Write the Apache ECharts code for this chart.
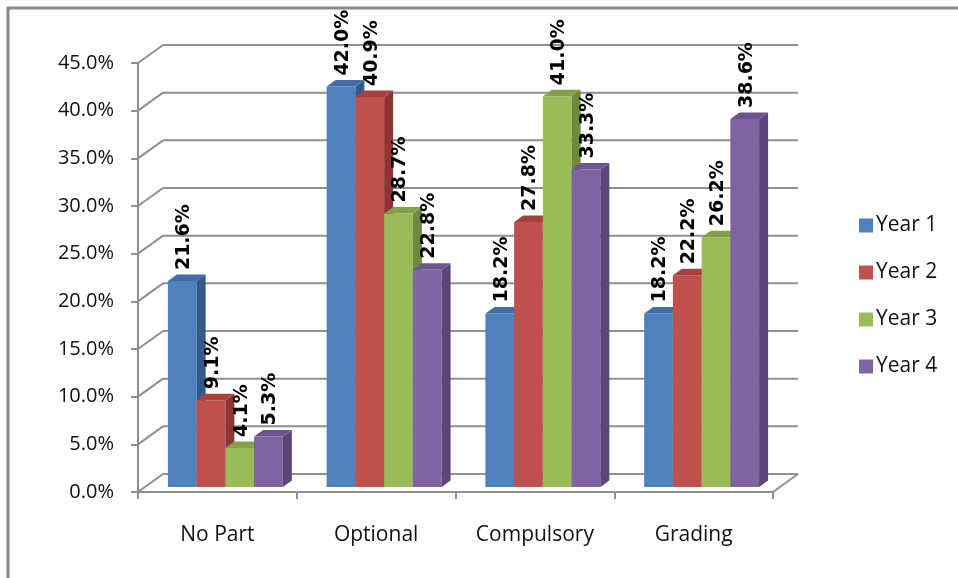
<!DOCTYPE html>
<html>
<head>
<meta charset="utf-8">
<script src="https://cdn.jsdelivr.net/npm/echarts@6/dist/echarts.min.js"></script>
<style>html,body{margin:0;padding:0;background:#fff;}#c{width:958px;height:578px;}</style>
</head>
<body>
<div id="c"></div>
<script>
const categories = ['No Part', 'Optional', 'Compulsory', 'Grading'];
const seriesNames = ['Year 1', 'Year 2', 'Year 3', 'Year 4'];
const year1 = [21.6, 42.0, 18.2, 18.2];
const year2 = [9.1, 40.9, 27.8, 22.2];
const year3 = [4.1, 28.7, 41.0, 26.2];
const year4 = [5.3, 22.8, 33.3, 38.6];
const yTicks = [0, 5, 10, 15, 20, 25, 30, 35, 40, 45];

const values = [year1, year2, year3, year4];
const frontColors = ['#4F81BD', '#C0504D', '#9BBB59', '#8064A2'];
const sideColors  = ['#345A88', '#8E3533', '#6F8A3C', '#5A4678'];
const topColors   = ['#416EA6', '#A8413E', '#84A04A', '#6C5590'];

// depth geometry (pixels)
const WALL_DX = 25, WALL_DY = -18;
const BAR_FX = 8, BAR_FY = -5;     // bar front plane offset from front axis plane
const BAR_DX = 9, BAR_DY = -6.5;   // bar depth
const BAR_FRAC = 0.181;

const chart = echarts.init(document.getElementById('c'));

function wallRender(params, api) {
  const v = api.value(1);
  const p = api.coord([0, v]);
  const band = api.size([1, 0])[0];
  const left = p[0] - band / 2;
  const right = left + band * categories.length;
  const y = p[1];
  const ls = {stroke: '#8f8f8f', lineWidth: 2};
  const children = [
    {type: 'line', shape: {x1: left, y1: y, x2: left + WALL_DX, y2: y + WALL_DY}, style: ls},
    {type: 'line', shape: {x1: left + WALL_DX, y1: y + WALL_DY, x2: right + WALL_DX, y2: y + WALL_DY}, style: ls}
  ];
  if (v === 0) {
    children.push({type: 'line', shape: {x1: right, y1: y, x2: right + WALL_DX, y2: y + WALL_DY}, style: ls});
  }
  return {type: 'group', children};
}

function barRender(si) {
  return function (params, api) {
    const cat = api.value(0), val = api.value(1);
    const base = api.coord([cat, 0]);
    const top = api.coord([cat, val]);
    const band = api.size([1, 0])[0];
    const bw = band * BAR_FRAC;
    const x0 = base[0] - bw * 2 + si * bw + BAR_FX;
    const yb = base[1] + BAR_FY;
    const yt = top[1] + BAR_FY;
    const x1 = x0 + bw;
    return {
      type: 'group',
      children: [
        {type: 'rect', shape: {x: x0, y: yt, width: bw, height: yb - yt}, style: {fill: frontColors[si]}},
        {type: 'polygon', shape: {points: [[x1, yt], [x1 + BAR_DX, yt + BAR_DY], [x1 + BAR_DX, yb + BAR_DY], [x1, yb]]}, style: {fill: sideColors[si]}},
        {type: 'polygon', shape: {points: [[x0, yt], [x0 + BAR_DX, yt + BAR_DY], [x1 + BAR_DX, yt + BAR_DY], [x1, yt]]}, style: {fill: topColors[si]}},
        {type: 'text', x: x0 + bw / 2 + 2, y: yt - 11, rotation: Math.PI / 2, z2: 100,
         style: {text: val.toFixed(1) + '%', fill: '#000', font: 'bold 19px "DejaVu Sans"', align: 'left', verticalAlign: 'middle'}}
      ]
    };
  };
}

const series = [{
  type: 'custom', name: 'wall', z: 1, silent: true,
  renderItem: wallRender,
  data: yTicks.map(v => [0, v]),
  encode: {x: 0, y: 1}
}];
seriesNames.forEach((n, si) => {
  series.push({
    type: 'custom', name: n, z: 2,
    itemStyle: {color: frontColors[si]},
    renderItem: barRender(si),
    data: values[si].map((v, i) => [i, v]),
    encode: {x: 0, y: 1}
  });
});

chart.setOption({
  animation: false,
  backgroundColor: '#fff',
  grid: {left: 138, top: 63, right: 185, bottom: 86, containLabel: false},
  xAxis: {
    type: 'category', data: categories, boundaryGap: true,
    axisLine: {lineStyle: {color: '#8f8f8f', width: 2}},
    axisTick: {show: true, length: 7, lineStyle: {color: '#8f8f8f', width: 2}},
    axisLabel: {margin: 33, color: '#111', fontSize: 21, fontFamily: 'Open Sans'}
  },
  yAxis: {
    type: 'value', min: 0, max: 45, interval: 5,
    axisLine: {show: true, lineStyle: {color: '#8f8f8f', width: 2}},
    axisTick: {show: true, length: 7, lineStyle: {color: '#8f8f8f', width: 2}},
    splitLine: {show: false},
    axisLabel: {margin: 24, color: '#111', fontSize: 20, fontFamily: 'Open Sans',
      formatter: v => v.toFixed(1) + '%'}
  },
  legend: {
    data: seriesNames, orient: 'vertical', left: 854, top: 210,
    icon: 'rect', itemWidth: 14, itemHeight: 14, itemGap: 26,
    textStyle: {fontSize: 21, fontFamily: 'Open Sans', color: '#111', padding: [0, 0, 0, -2]}
  },
  graphic: [{
    type: 'rect', shape: {x: 8, y: 8, width: 1000, height: 600},
    style: {fill: 'none', stroke: '#8a8a8a', lineWidth: 3}, z: 0, silent: true
  }],
  series
});
</script>
</body>
</html>
